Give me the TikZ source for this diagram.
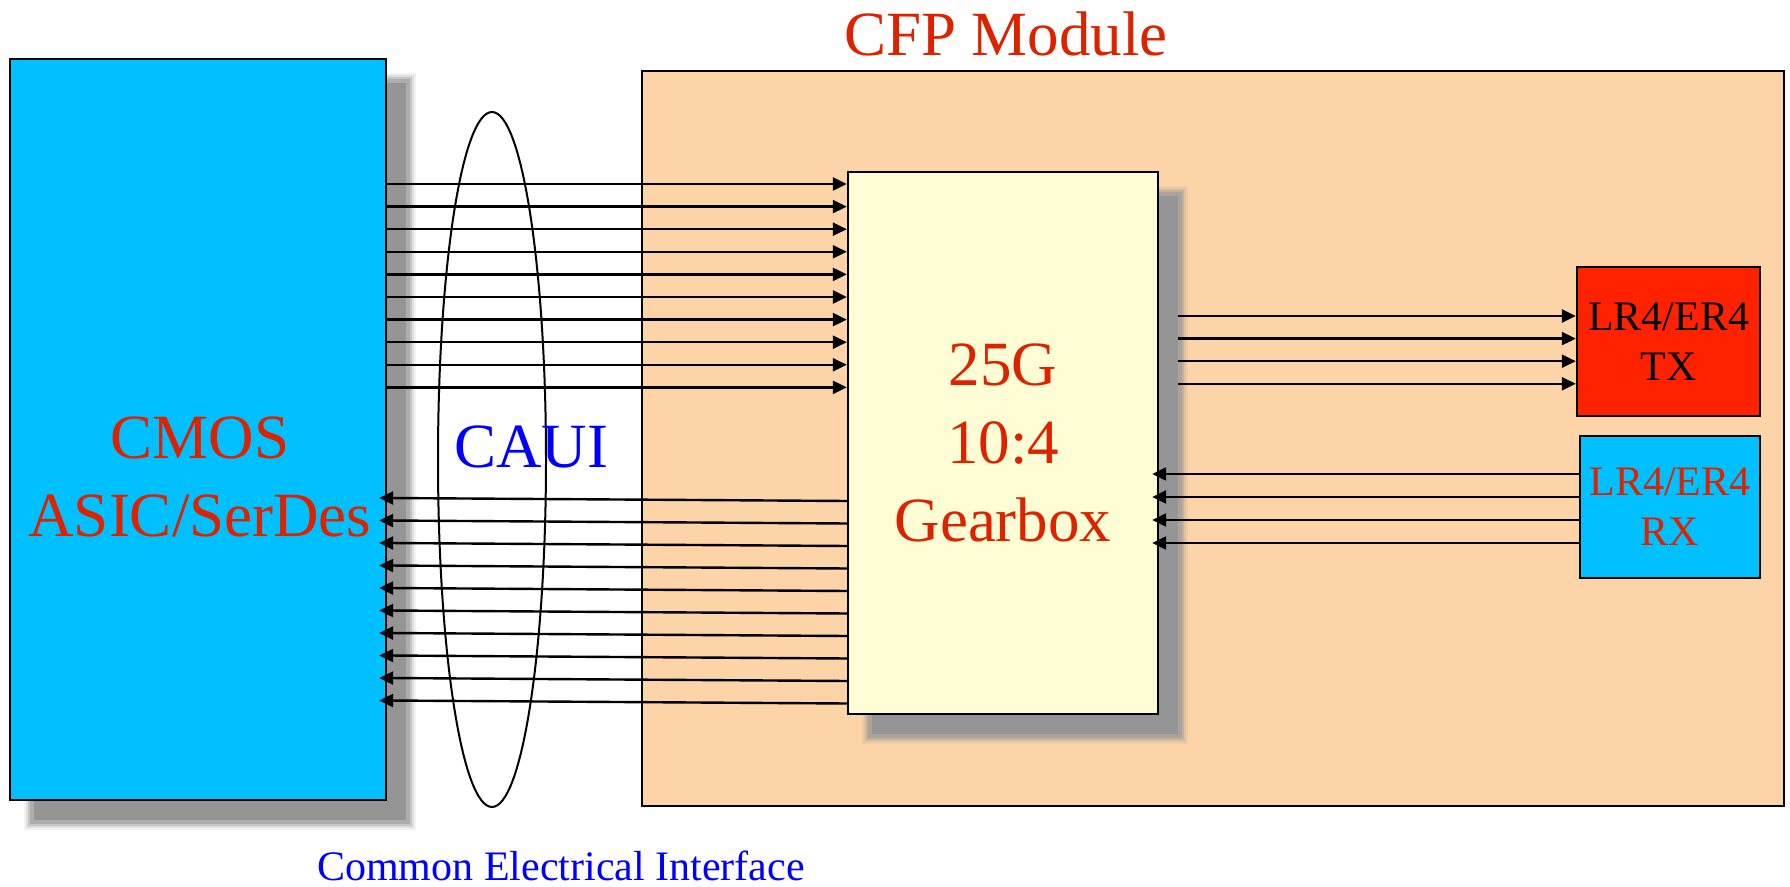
\documentclass[tikz,border=0pt]{standalone}
\usepackage{fontspec}
\setmainfont{Liberation Serif}
\usepackage{tikz}
\usetikzlibrary{arrows.meta,positioning,calc,shapes.geometric}
\definecolor{cmosc}{HTML}{00C0FF}
\definecolor{cfpc}{HTML}{FDD4A8}
\definecolor{gearc}{HTML}{FFFDD6}
\definecolor{txc}{HTML}{FF2200}
\definecolor{redc}{HTML}{DD2200}
\definecolor{bluec}{HTML}{0000FF}
\definecolor{shadowc}{HTML}{959595}
\pgfdeclarelayer{back}
\pgfdeclarelayer{shade}
\pgfsetlayers{back,shade,main}
\tikzset{
  >={Triangle[length=7pt,width=6.5pt]},
  blk/.style={draw=black,line width=1.2pt,inner sep=0pt,align=center},
  big/.style={font=\fontsize{31.5}{39}\selectfont},
  small/.style={font=\fontsize{21}{25}\selectfont},
  lane/.style={->,line width=1.2pt},
}
\newcommand{\softshadow}[1]{%
  \begin{pgfonlayer}{shade}
  \foreach \r/\o in {7/0.12,5/0.2,3/0.35,1/0.5,-3/1}
    \fill[shadowc,opacity=\o] ($(#1.north west)+(22-\r,22-\r)$) rectangle ($(#1.south east)+(22+\r,22+\r)$);
  \end{pgfonlayer}}

\begin{document}
\begin{tikzpicture}[x=0.5pt,y=-0.5pt]
  \useasboundingbox (0,0) rectangle (1790,887);
  % boxes
  \begin{pgfonlayer}{back}
  \node[blk,fill=cfpc,minimum width=571pt,minimum height=367.5pt] (cfp) at (1213,438.5) {};
  \end{pgfonlayer}
  \node[blk,fill=cmosc,minimum width=188pt,minimum height=370.5pt] (cmos) at (198,429.5) {};
  \node[blk,fill=gearc,big,text=redc,minimum width=155pt,minimum height=271pt] (gear) at (1003,443) {25G\\10:4\\Gearbox};
  \node[blk,fill=txc,small,minimum width=91.5pt,minimum height=74.5pt] (tx) at (1668.5,341.5) {LR4/ER4\\TX};
  \node[blk,fill=cmosc,small,text=redc,minimum width=90pt,minimum height=71pt] (rx) at (1670,507) {LR4/ER4\\RX};
  \softshadow{cmos}\softshadow{gear}
  \node[draw,ellipse,line width=1pt,inner sep=0pt,minimum width=54pt,minimum height=347.5pt] (caui) at (492,459.5) {};
  % labels
  \node[big,text=redc,anchor=base] (cfptitle) at (1006,56) {CFP Module};
  \node[big,text=redc,align=center,anchor=base] (cmostxt) at (200,537) {CMOS\\ASIC/SerDes};
  \node[big,text=bluec,anchor=base] (cauitxt) at (531,468) {CAUI};
  \node[small,text=bluec,anchor=base] (cei) at (561,880) {Common Electrical Interface};
  % lanes
  \foreach \i [evaluate=\i as \y using 184+22.6*\i] in {0,...,9}
    \draw[lane] (cmos.east |- 0,\y) -- (gear.west |- 0,\y);
  \foreach \i [evaluate=\i as \y using 498+22.5*\i] in {0,...,9}
    \draw[lane,shorten >=-4pt] (gear.west |- 0,\y+3) -- (cmos.east |- 0,\y);
  \foreach \i [evaluate=\i as \y using 316+22.6*\i] in {0,...,3}
    \draw[lane] ([xshift=9.5pt]gear.east |- 0,\y) -- (tx.west |- 0,\y);
  \foreach \i [evaluate=\i as \y using 474+23*\i] in {0,...,3}
    \draw[lane,shorten >=-3.5pt] (rx.west |- 0,\y) -- (gear.east |- 0,\y);
\end{tikzpicture}
\end{document}
